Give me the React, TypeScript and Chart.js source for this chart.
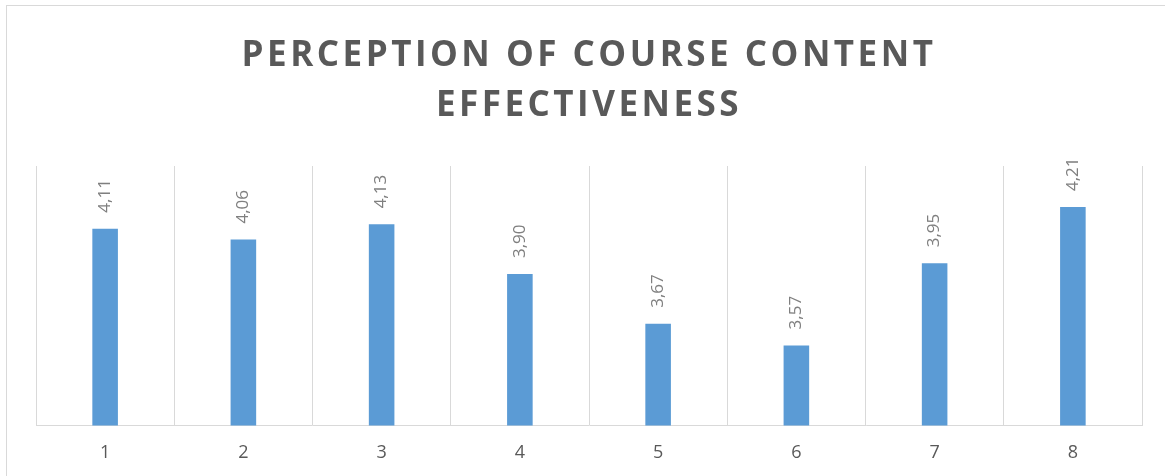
import React, { useEffect, useRef } from "react";
import { Chart, registerables } from "chart.js";

Chart.register(...registerables);

const categories = ["1", "2", "3", "4", "5", "6", "7", "8"];
const scores = [4.11, 4.06, 4.13, 3.9, 3.67, 3.57, 3.95, 4.21];
const titleLines = ["PERCEPTION OF COURSE CONTENT", "EFFECTIVENESS"];
const yMin = 3.2;
const yMax = 4.4;

const FONT = "'Open Sans', 'Noto Sans', sans-serif";

const titleSpacingPlugin = {
  id: "titleSpacing",
  beforeDraw(chart: any) {
    const tb = chart.titleBlock;
    if (tb && !tb._spaced) {
      const orig = tb.draw.bind(tb);
      tb.draw = function (...args: any[]) {
        const ctx = this.ctx;
        const prev = ctx.letterSpacing;
        ctx.letterSpacing = "3.5px";
        orig(...args);
        ctx.letterSpacing = prev || "0px";
      };
      tb._spaced = true;
    }
  },
};

const valueLabelPlugin = {
  id: "valueLabels",
  afterDatasetsDraw(chart: any) {
    const ctx = chart.ctx;
    const meta = chart.getDatasetMeta(0);
    const data = chart.data.datasets[0].data as number[];
    ctx.save();
    ctx.font = `17px ${FONT}`;
    ctx.fillStyle = "#7f7f7f";
    ctx.textAlign = "left";
    ctx.textBaseline = "middle";
    meta.data.forEach((bar: any, i: number) => {
      const label = data[i].toFixed(2).replace(".", ",");
      ctx.save();
      ctx.translate(bar.x, bar.y - 16);
      ctx.rotate(-Math.PI / 2);
      ctx.fillText(label, 0, 0);
      ctx.restore();
    });
    ctx.restore();
  },
};

export default function App() {
  const canvasRef = useRef<HTMLCanvasElement | null>(null);

  useEffect(() => {
    if (!canvasRef.current) return;
    const chart = new Chart(canvasRef.current, {
      type: "bar",
      data: {
        labels: categories,
        datasets: [
          {
            data: scores,
            backgroundColor: "#5B9BD5",
            borderWidth: 0,
            barPercentage: 0.185,
            categoryPercentage: 1,
          },
        ],
      },
      options: {
        animation: false,
        responsive: true,
        maintainAspectRatio: false,
        layout: { padding: { top: 0, left: 36, right: 23, bottom: -5 } },
        plugins: {
          legend: { display: false },
          tooltip: { enabled: false },
          title: {
            display: true,
            text: titleLines,
            color: "#595959",
            font: { family: FONT, size: 35, weight: "bold", lineHeight: 50 / 35 },
            padding: { top: 31, bottom: 35 },
          },
        },
        scales: {
          x: {
            grid: {
              display: true,
              color: "#d9d9d9",
              lineWidth: 1,
              offset: true,
              drawTicks: false,
            },
            border: { display: true, color: "#d9d9d9", width: 1 },
            ticks: {
              color: "#595959",
              font: { family: FONT, size: 18 },
              padding: 17,
            },
          },
          y: {
            display: false,
            min: yMin,
            max: yMax,
          },
        },
      },
      plugins: [titleSpacingPlugin, valueLabelPlugin],
    });
    return () => chart.destroy();
  }, []);

  return (
    <div
      style={{
        position: "fixed",
        left: 0,
        top: 0,
        width: 1165,
        height: 476,
        background: "#ffffff",
        overflow: "hidden",
      }}
    >
      <div
        style={{
          position: "absolute",
          left: 6,
          top: 5,
          width: 1200,
          height: 520,
          borderLeft: "1.5px solid #d9d9d9",
          borderTop: "1.5px solid #d9d9d9",
          boxSizing: "border-box",
        }}
      />
      <div style={{ position: "absolute", left: 0, top: 0, width: 1165, height: 476 }}>
        <canvas ref={canvasRef} />
      </div>
    </div>
  );
}
